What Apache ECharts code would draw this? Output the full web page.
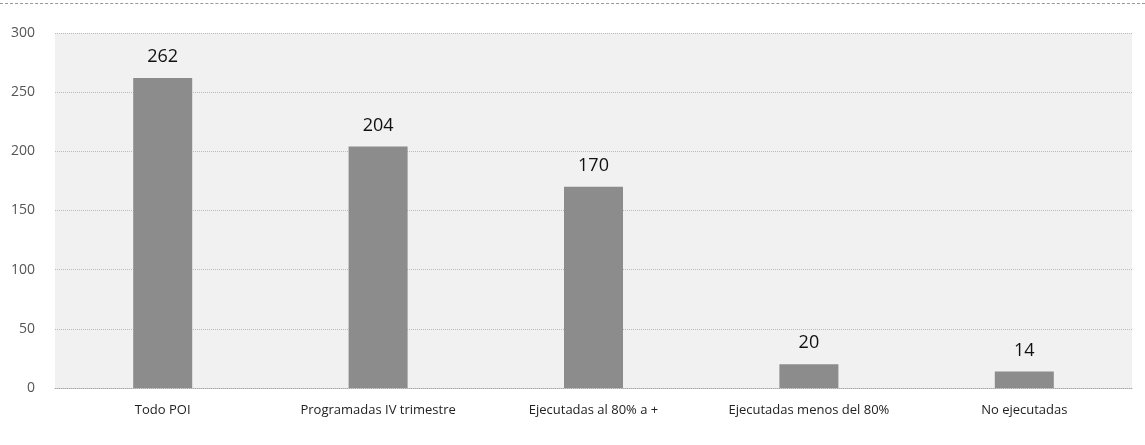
<!DOCTYPE html>
<html>
<head>
<meta charset="utf-8">
<style>
html,body{margin:0;padding:0;background:#fff;}
#chart{width:1145px;height:445px;}
#topline{position:absolute;left:0;top:3px;width:1145px;border-top:1px dashed #999;}
</style>
<script src="https://cdn.jsdelivr.net/npm/echarts@6/dist/echarts.min.js"></script>
</head>
<body>
<div id="topline"></div>
<div id="chart"></div>
<script>
const categories = ['Todo POI', 'Programadas IV trimestre', 'Ejecutadas al 80% a +', 'Ejecutadas menos del 80%', 'No ejecutadas'];
const values = [262, 204, 170, 20, 14];
const yTicks = { min: 0, max: 300, interval: 50 };

const chart = echarts.init(document.getElementById('chart'), null, { renderer: 'canvas' });
chart.setOption({
  backgroundColor: 'transparent',
  animation: false,
  grid: {
    left: 55, right: 13, top: 33, bottom: 57,
    show: true, backgroundColor: '#f1f1f1', borderWidth: 0
  },
  xAxis: {
    type: 'category',
    data: categories,
    axisLine: { show: true, lineStyle: { color: '#aaa', type: 'dotted' } },
    axisTick: { show: false },
    axisLabel: { interval: 0, color: '#222', fontSize: 13, fontFamily: 'Open Sans', margin: 16 }
  },
  yAxis: {
    type: 'value',
    min: yTicks.min, max: yTicks.max, interval: yTicks.interval,
    axisLine: { show: false },
    axisTick: { show: false },
    splitLine: { lineStyle: { color: '#bbb', type: 'dotted' } },
    axisLabel: { color: '#555', fontSize: 14, fontFamily: 'Open Sans', margin: 20 }
  },
  series: [{
    type: 'bar',
    data: values,
    barWidth: 59,
    itemStyle: { color: '#8c8c8c' },
    label: {
      show: true, position: 'top', distance: 12,
      color: '#111', fontSize: 18, fontWeight: 500, fontFamily: 'Open Sans'
    }
  }]
});
</script>
</body>
</html>
